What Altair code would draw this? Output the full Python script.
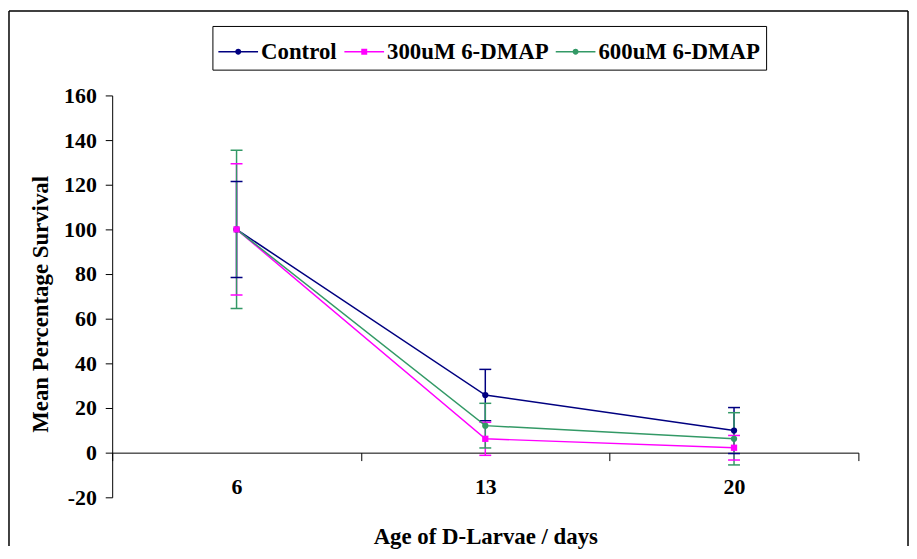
import altair as alt
import pandas as pd

days = ["6", "13", "20"]
series = ["Control", "300uM 6-DMAP", "600uM 6-DMAP"]
control_mean = [100, 25.8, 9.9]
control_err = [21.5, 11.5, 10.3]
dmap300_mean = [100, 6.2, 2.2]
dmap300_err = [29.4, 7.4, 5.5]
dmap600_mean = [100, 12.1, 6.2]
dmap600_err = [35.4, 10.0, 11.7]
colors = ["#000080", "#FF00FF", "#339966"]
y_ticks = [-20, 0, 20, 40, 60, 80, 100, 120, 140, 160]

rows = []
for s, means, errs in zip(series, [control_mean, dmap300_mean, dmap600_mean],
                          [control_err, dmap300_err, dmap600_err]):
    for d, m, e in zip(days, means, errs):
        rows.append({"series": s, "grp": s, "day": d, "mean": m,
                     "lo": m - e, "hi": m + e})
df = pd.DataFrame(rows)

FONT = "Liberation Serif"

x_enc = alt.X(
    "day:O", sort=days,
    scale=alt.Scale(type="band", paddingInner=0, paddingOuter=0),
    axis=alt.Axis(
        title="Age of D-Larvae / days", labelAngle=0, tickBand="extent",
        tickSize=8, offset=-45, labelPadding=16, titlePadding=29,
        labelFont=FONT, labelFontSize=22, labelFontWeight="bold", labelColor="black",
        titleFont=FONT, titleFontSize=23, titleFontWeight="bold", titleColor="black",
        domainColor="black", tickColor="black", domainWidth=1, tickWidth=1, grid=False,
    ),
)
y_scale = alt.Scale(domain=[-20, 160], nice=False)
y_axis = alt.Axis(
    title="Mean Percentage Survival", values=y_ticks, tickSize=7, labelPadding=9,
    labelExpr="'' + datum.value", titleY=210,
    titlePadding=11, labelFont=FONT, labelFontSize=22, labelFontWeight="bold",
    labelColor="black", titleFont=FONT, titleFontSize=23, titleFontWeight="bold",
    titleColor="black", domainColor="black", tickColor="black", grid=False,
)
stroke_nl = alt.Stroke("grp:N", sort=series,
                       scale=alt.Scale(range=colors), legend=None)
fill_nl = alt.Fill("grp:N", sort=series,
                   scale=alt.Scale(range=colors), legend=None)

base = alt.Chart(df)

err_rules = base.mark_rule(strokeWidth=1.5).encode(
    x=x_enc, y=alt.Y("lo:Q", scale=y_scale, axis=y_axis), y2="hi:Q", stroke=stroke_nl)

caps = base.transform_fold(["lo", "hi"], as_=["end", "val"]).mark_tick(
    thickness=1.5, size=12, opacity=1).encode(
    x=x_enc, y=alt.Y("val:Q", scale=y_scale), fill=fill_nl, detail="end:N")

lines = base.mark_line(strokeWidth=1.5).encode(
    x=x_enc, y=alt.Y("mean:Q", scale=y_scale), stroke=stroke_nl)

circles = base.transform_filter(alt.datum.series != "300uM 6-DMAP").mark_point(
    filled=True, shape="circle", size=40, opacity=1).encode(
    x=x_enc, y=alt.Y("mean:Q", scale=y_scale), fill=fill_nl)

squares = base.transform_filter(alt.datum.series == "300uM 6-DMAP").mark_point(
    filled=True, shape="square", size=40, opacity=1).encode(
    x=x_enc, y=alt.Y("mean:Q", scale=y_scale), fill=fill_nl)

circ_path = ("M-1,-0.04L1,-0.04L1,0.04L-1,0.04Z "
             "M0.15,0A0.15,0.15,0,1,1,-0.15,0A0.15,0.15,0,1,1,0.15,0Z")
sq_path = "M-1,-0.04L1,-0.04L1,0.04L-1,0.04Z M-0.15,-0.15L0.15,-0.15L0.15,0.15L-0.15,0.15Z"

leg = dict(
    title=None, orient="none", legendX=101, legendY=-70, direction="horizontal",
    strokeColor="black", padding=6, labelFont=FONT, labelFontSize=23,
    labelFontWeight="bold", labelColor="black", symbolSize=1600, labelLimit=400,
    symbolStrokeWidth=0, columnPadding=7, labelOffset=3,
)

legend_layer = base.transform_filter("false").mark_point(filled=True, opacity=1).encode(
    x=x_enc, y=alt.Y("mean:Q", scale=y_scale),
    color=alt.Color("series:N", sort=series,
                    scale=alt.Scale(domain=series, range=colors),
                    legend=alt.Legend(**leg)),
    shape=alt.Shape("series:N", sort=series,
                    scale=alt.Scale(domain=series, range=[circ_path, sq_path, circ_path]),
                    legend=alt.Legend(**leg)),
)

frame = alt.Chart(pd.DataFrame({"f": [0]}))
left_edge = frame.mark_rule(color="black", strokeWidth=1.5).encode(
    x=alt.value(-104), y=alt.value(-85), y2=alt.value(454))
top_edge = frame.mark_rule(color="black", strokeWidth=1.5).encode(
    x=alt.value(-104), x2=alt.value(802), y=alt.value(-85))
right_edge = frame.mark_rule(color="black", strokeWidth=1.5).encode(
    x=alt.value(802), y=alt.value(-85), y2=alt.value(454))

chart = alt.layer(
    left_edge, top_edge, right_edge,
    err_rules, caps, lines, circles, squares, legend_layer,
).properties(
    width=752, height=405, padding=0, background="white",
).configure_view(strokeOpacity=0)

chart.save("out.html", embed_options={"renderer": "svg", "actions": False})
